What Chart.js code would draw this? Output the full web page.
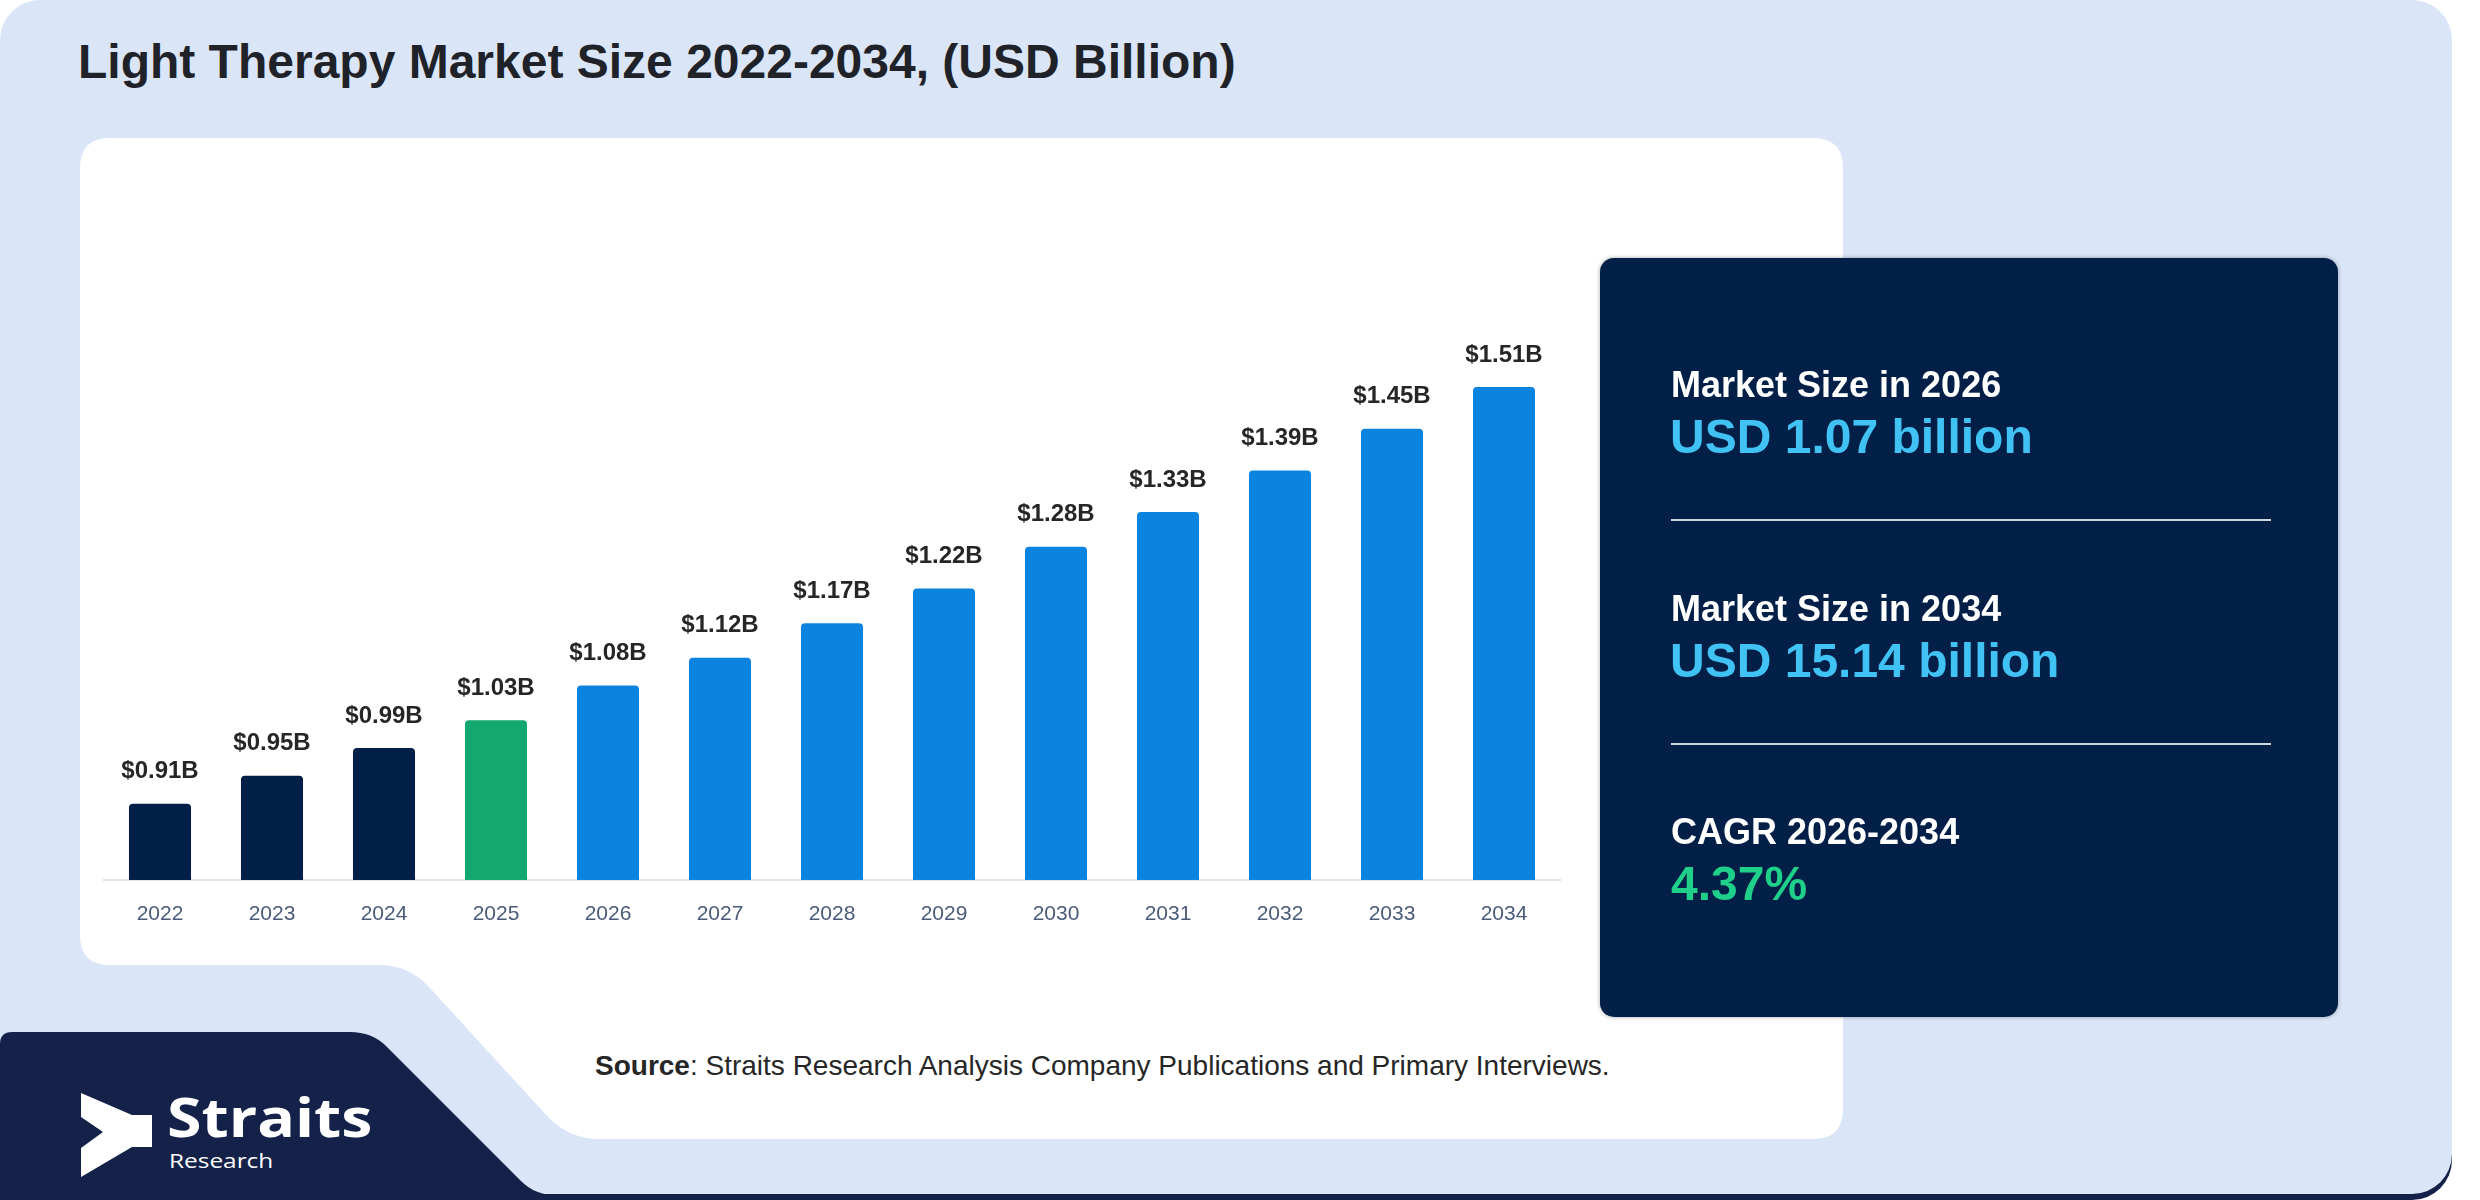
<!DOCTYPE html>
<html>
<head>
<meta charset="utf-8">
<title>Light Therapy Market Size 2022-2034</title>
<script src="https://cdn.jsdelivr.net/npm/chart.js@4.4.1/dist/chart.umd.min.js"></script>
<style>
  html, body { margin: 0; padding: 0; background: #ffffff; }
  body { width: 2480px; height: 1200px; position: relative; overflow: hidden;
         font-family: "Liberation Sans", Arial, sans-serif; }
  #bg { position: absolute; left: 0; top: 0; }
  .txt { position: absolute; white-space: nowrap; line-height: 1; }
  #title { left: 78px; top: 38px; font-size: 48px; font-weight: bold; color: #1f2329; }
  #chartBox { position: absolute; left: 80px; top: 138px; width: 1763px; height: 900px; }
  #info { position: absolute; left: 1600px; top: 258px; width: 738px; height: 759px;
          background: #011f47; border-radius: 14px; box-shadow: 0 0 4px rgba(0,0,0,0.35); }
  .lab { color: #ffffff; font-size: 36px; font-weight: bold; }
  .big { color: #40c3f4; font-size: 48px; font-weight: bold; }
  .rule { position: absolute; left: 71px; width: 600px; height: 2px; background: #cdd4de; }
  #source { left: 595px; top: 1052px; font-size: 28px; color: #262626; }
  #brand { left: 167px; top: 1089px; font-family: "Open Sans", sans-serif; font-weight: bold;
           font-size: 54px; color: #ffffff; transform: scaleX(1.16); transform-origin: left top; }
  #brand2 { left: 169px; top: 1151px; font-family: "Open Sans", sans-serif;
            font-size: 20px; color: #ffffff; transform: scaleX(1.22); transform-origin: left top; }
</style>
</head>
<body>
<svg id="bg" width="2480" height="1200">
  <rect x="0" y="8" width="2452" height="1192" rx="40" fill="#142149"/>
  <rect x="0" y="0" width="2452" height="1194" rx="40" fill="#dae6f8"/>
  <path d="M0,1200 L0,1044 Q0,1032 12,1032 L350,1032 Q372,1032 386,1046 L521,1181 Q535,1195 555,1195 L555,1200 Z" fill="#142149"/>
  <path d="M110,138 L1813,138 Q1843,138 1843,168 L1843,1109 Q1843,1139 1813,1139 L600,1139 Q569,1139 548,1117 L429,987 Q409,965 379,965 L110,965 Q80,965 80,935 L80,168 Q80,138 110,138 Z" fill="#ffffff"/>
  <path d="M81,1093 L132,1115 L152,1115 L152,1147 L132,1147 L81,1177 L81,1148 L103,1132 L81,1117 Z" fill="#ffffff"/>
</svg>

<div class="txt" id="title">Light Therapy Market Size 2022-2034, (USD Billion)</div>

<div id="chartBox"><canvas id="marketChart" width="1763" height="900"></canvas></div>

<div id="info">
  <div class="txt lab" style="left:71px; top:109px;">Market Size in 2026</div>
  <div class="txt big" style="left:70px; top:155px;">USD 1.07 billion</div>
  <div class="rule" style="top:261px;"></div>
  <div class="txt lab" style="left:71px; top:333px;">Market Size in 2034</div>
  <div class="txt big" style="left:70px; top:379px;">USD 15.14 billion</div>
  <div class="rule" style="top:485px;"></div>
  <div class="txt lab" style="left:71px; top:556px;">CAGR 2026-2034</div>
  <div class="txt big" style="left:71px; top:602px; color:#1fd08a;">4.37%</div>
</div>

<div class="txt" id="source"><b>Source</b>: Straits Research Analysis Company Publications and Primary Interviews.</div>
<div class="txt" id="brand">Straits</div>
<div class="txt" id="brand2">Research</div>

<script>
// chart data
const years = ['2022', '2023', '2024', '2025', '2026', '2027', '2028', '2029', '2030', '2031', '2032', '2033', '2034'];
const marketSize = [0.91, 0.95, 0.99, 1.03, 1.08, 1.12, 1.17, 1.22, 1.28, 1.33, 1.39, 1.45, 1.51];

const FONT = '"Liberation Sans", Arial, sans-serif';

// history navy, base year green, forecast blue
const barColors = years.map(y => {
    if (+y < 2025) return '#021f48';
    if (+y === 2025) return '#12a86f';
    return '#0b84e0';
});

const valueLabels = {
    id: 'valueLabels',
    afterDatasetsDraw(chart) {
        const ctx = chart.ctx;
        const meta = chart.getDatasetMeta(0);
        ctx.save();
        ctx.font = 'bold 24px ' + FONT;
        ctx.fillStyle = '#262626';
        ctx.textAlign = 'center';
        ctx.textBaseline = 'middle';
        meta.data.forEach((bar, i) => {
            ctx.fillText('$' + marketSize[i].toFixed(2) + 'B', bar.x, bar.y - 32);
        });
        ctx.restore();
    }
};

const ctx = document.getElementById('marketChart').getContext('2d');
new Chart(ctx, {
    type: 'bar',
    data: {
        labels: years,
        datasets: [{
            data: marketSize,
            backgroundColor: barColors,
            borderRadius: { topLeft: 4, topRight: 4 },
            borderSkipped: 'bottom',
            categoryPercentage: 1,
            barPercentage: 0.554
        }]
    },
    options: {
        responsive: false,
        maintainAspectRatio: false,
        devicePixelRatio: 1,
        animation: false,
        layout: { padding: { left: 24, right: 283, top: 186.6, bottom: 98 } },
        plugins: {
            legend: { display: false },
            tooltip: { enabled: false }
        },
        scales: {
            x: {
                grid: { display: false, drawTicks: false },
                border: { display: true, color: '#dfe3e8', width: 2 },
                ticks: { color: '#4b5b7a', font: { size: 21, family: FONT }, padding: 22 },
                afterFit(scale) { scale.height = 60; }
            },
            y: {
                display: false,
                min: 0.8,
                max: 1.6
            }
        }
    },
    plugins: [valueLabels]
});
</script>
</body>
</html>
